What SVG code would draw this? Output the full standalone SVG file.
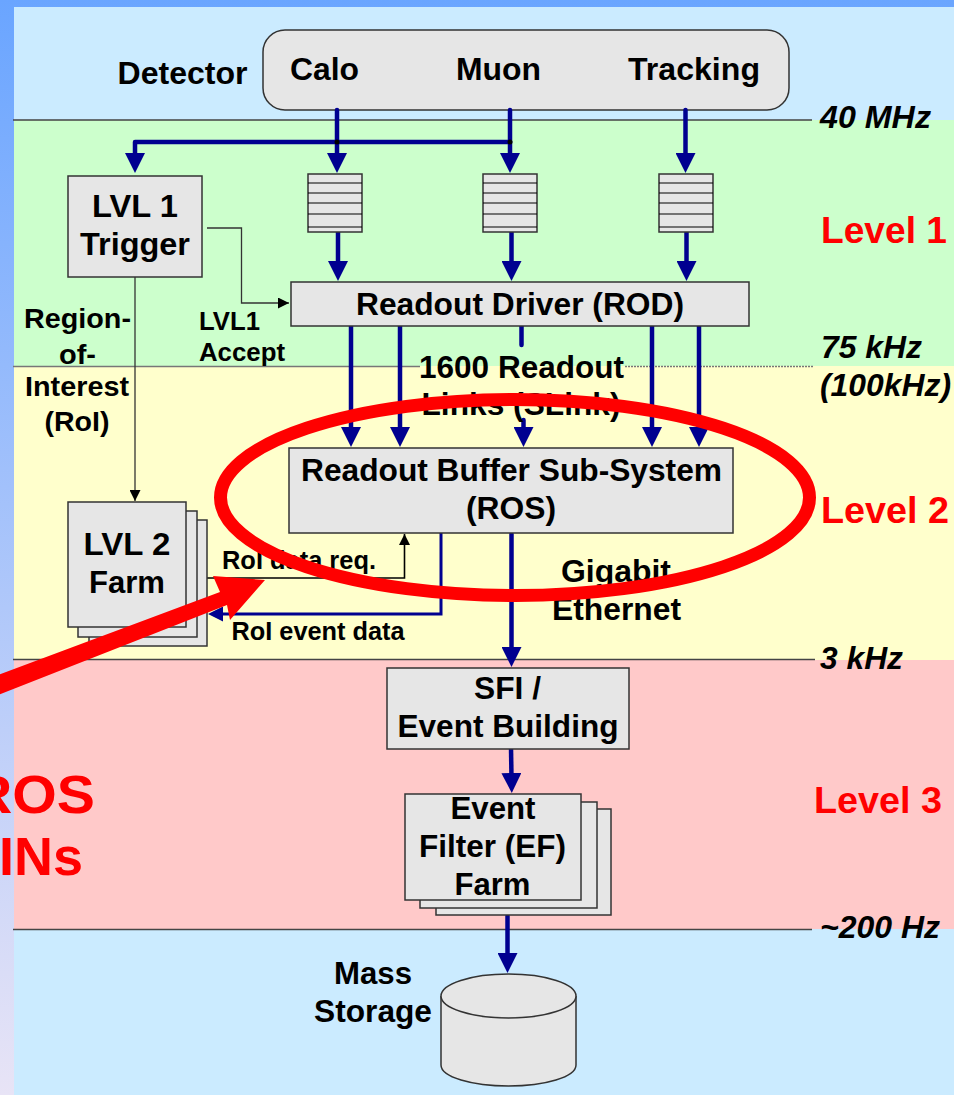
<svg xmlns="http://www.w3.org/2000/svg" width="954" height="1095" viewBox="0 0 954 1095">
<defs>
<linearGradient id="bg" x1="0" y1="0" x2="0" y2="1"><stop offset="0" stop-color="#6aa5ff"/><stop offset="1" stop-color="#e8e4f6"/></linearGradient>
<marker id="big" markerUnits="userSpaceOnUse" markerWidth="20" markerHeight="20" refX="4" refY="10" orient="auto"><path d="M0 0L20 10L0 20Z" fill="#000090"/></marker>
<marker id="mid" markerUnits="userSpaceOnUse" markerWidth="15" markerHeight="15" refX="1" refY="7.500" orient="auto"><path d="M0 0L15 7.500L0 15Z" fill="#000090"/></marker>
<marker id="small" markerUnits="userSpaceOnUse" markerWidth="11" markerHeight="11" refX="11" refY="5.500" orient="auto"><path d="M0 0L11 5.500L0 11Z" fill="#000"/></marker>
</defs>
<style>
text{font-family:"Liberation Sans",Arial,sans-serif;font-weight:700;fill:#000;text-anchor:middle}
.t30{font-size:31.500px}.t27{font-size:28px}.t25{font-size:26px}.t24{font-size:25px}
.it{font-size:32px;font-style:italic;text-anchor:start}
.lv{font-size:37px;fill:#f00;text-anchor:start}.big{font-size:54px;fill:#f00;text-anchor:start}
.box{fill:#e6e6e6;stroke:#333;stroke-width:1.5}
.band{stroke:#444;stroke-width:1.5;fill:none}
.dash{stroke:#777;stroke-width:1.5;fill:none}
.bus{fill:none;stroke:#000090;stroke-width:4.500;stroke-linecap:round;stroke-linejoin:round}
.thin{fill:none;stroke:#333;stroke-width:1.300}
.q{stroke:#000;stroke-width:1;fill:none}
</style>
<rect width="954" height="1095" fill="url(#bg)"/>
<rect x="14" y="7" width="940" height="113" fill="#cbebff"/>
<rect x="14" y="120" width="940" height="246" fill="#ccffcc"/>
<rect x="14" y="366" width="940" height="294" fill="#ffffcc"/>
<rect x="14" y="660" width="940" height="269" fill="#ffc9c9"/>
<rect x="14" y="929" width="940" height="166" fill="#cbebff"/>
<g id="levels">
<path class="band" d="M13 120H812M13 659.500H815M13 929.500H812"/>
<path class="dash" d="M13 366.500H420"/>
<path class="dash" d="M625 366.500H814" stroke-dasharray="2 1"/>
<text class="it" x="820" y="128" textLength="111" lengthAdjust="spacingAndGlyphs">40 MHz</text>
<text class="it" x="821" y="358" textLength="101" lengthAdjust="spacingAndGlyphs">75 kHz</text>
<text class="it" x="820" y="396" textLength="131" lengthAdjust="spacingAndGlyphs">(100kHz)</text>
<text class="it" x="820" y="669" textLength="83" lengthAdjust="spacingAndGlyphs">3 kHz</text>
<text class="it" x="820" y="938" textLength="120" lengthAdjust="spacingAndGlyphs">~200 Hz</text>
<text class="lv" x="821" y="243" textLength="126" lengthAdjust="spacingAndGlyphs">Level 1</text>
<text class="lv" x="821" y="523" textLength="128" lengthAdjust="spacingAndGlyphs">Level 2</text>
<text class="lv" x="814" y="813" textLength="128" lengthAdjust="spacingAndGlyphs">Level 3</text>
</g>
<g id="detector">
<text class="t30" x="182.500" y="84" textLength="130" lengthAdjust="spacingAndGlyphs">Detector</text>
<rect class="box" x="263" y="30" width="526" height="80" rx="22"/>
<text class="t30" x="324.500" y="80" textLength="69" lengthAdjust="spacingAndGlyphs">Calo</text>
<text class="t30" x="498.500" y="80" textLength="85" lengthAdjust="spacingAndGlyphs">Muon</text>
<text class="t30" x="694" y="80" textLength="132" lengthAdjust="spacingAndGlyphs">Tracking</text>
</g>
<g id="connectors">
<path class="bus" d="M337 110V157" marker-end="url(#big)"/>
<path class="bus" d="M510 110V157" marker-end="url(#big)"/>
<path class="bus" d="M685.500 110V157" marker-end="url(#big)"/>
<path class="bus" d="M510 142H135V157" marker-end="url(#big)"/>
<circle cx="337" cy="142" r="2.500" fill="#000"/>
<circle cx="510" cy="142" r="2.500" fill="#000"/>
<path class="bus" d="M338 232V265" marker-end="url(#big)"/>
<path class="bus" d="M511.500 232V265" marker-end="url(#big)"/>
<path class="bus" d="M686.500 232V265" marker-end="url(#big)"/>
<path class="bus" d="M351 326V431" marker-end="url(#big)"/>
<path class="bus" d="M400 326V431" marker-end="url(#big)"/>
<path class="bus" d="M521.500 326V345"/>
<path class="bus" d="M523.500 420V431" marker-end="url(#big)"/>
<path class="bus" d="M652 326V431" marker-end="url(#big)"/>
<path class="bus" d="M699 326V431" marker-end="url(#big)"/>
<path class="bus" d="M511.500 534V651" marker-end="url(#big)"/>
<path class="bus" d="M511 748L511.500 777" marker-end="url(#big)"/>
<path class="bus" d="M507.500 916V957" marker-end="url(#big)"/>
<path class="thin" d="M207 228H241.500V303H289" marker-end="url(#small)"/>
<path class="thin" d="M135 277V501" marker-end="url(#small)"/>
<path class="thin" style="stroke:#000;stroke-width:1.600" d="M207 578H404.500V534" marker-end="url(#small)"/>
<path class="bus" style="stroke-width:3;stroke-linecap:butt;stroke-linejoin:miter" d="M441 533V614H222" marker-end="url(#mid)"/>
</g>
<g id="lvl1">
<rect class="box" x="68" y="176" width="134" height="101"/>
<text class="t30" x="135" y="217" textLength="86" lengthAdjust="spacingAndGlyphs">LVL 1</text>
<text class="t30" x="135" y="255" textLength="110" lengthAdjust="spacingAndGlyphs">Trigger</text>
</g>
<g id="buffers">
<g id="buf1"><rect class="box" x="308" y="174" width="54" height="58"/><path class="q" d="M308 183H362M308 193H362M308 203H362M308 214H362M308 227H362"/></g>
<g id="buf2"><rect class="box" x="483" y="174" width="54" height="58"/><path class="q" d="M483 183H537M483 193H537M483 203H537M483 214H537M483 227H537"/></g>
<g id="buf3"><rect class="box" x="659" y="174" width="54" height="58"/><path class="q" d="M659 183H713M659 193H713M659 203H713M659 214H713M659 227H713"/></g>
</g>
<g id="rod">
<rect class="box" x="291" y="282" width="458" height="44"/>
<text class="t30" x="520" y="315" textLength="328" lengthAdjust="spacingAndGlyphs">Readout Driver (ROD)</text>
</g>
<g id="labels">
<text class="t27" x="77.500" y="328" textLength="107" lengthAdjust="spacingAndGlyphs">Region-</text>
<text class="t27" x="77.500" y="364" textLength="37" lengthAdjust="spacingAndGlyphs">of-</text>
<text class="t27" x="77" y="396" textLength="104" lengthAdjust="spacingAndGlyphs">Interest</text>
<text class="t27" x="77" y="431" textLength="65" lengthAdjust="spacingAndGlyphs">(RoI)</text>
<text class="t25" x="229.500" y="330" textLength="61" lengthAdjust="spacingAndGlyphs">LVL1</text>
<text class="t25" x="242" y="361" textLength="86" lengthAdjust="spacingAndGlyphs">Accept</text>
<text class="t30" x="521.500" y="378" textLength="205" lengthAdjust="spacingAndGlyphs">1600 Readout</text>
<text class="t30" x="521" y="415" textLength="199" lengthAdjust="spacingAndGlyphs">Links (SLink)</text>
<text class="t30" x="616" y="582" textLength="110" lengthAdjust="spacingAndGlyphs">Gigabit</text>
<text class="t30" x="616.500" y="620" textLength="129" lengthAdjust="spacingAndGlyphs">Ethernet</text>
<text class="t24" x="299" y="569" textLength="154" lengthAdjust="spacingAndGlyphs">RoI data req.</text>
<text class="t24" x="318" y="640" textLength="173" lengthAdjust="spacingAndGlyphs">RoI event data</text>
</g>
<g id="ros">
<rect class="box" x="289" y="448" width="444" height="85"/>
<text class="t30" x="511.500" y="481" textLength="421" lengthAdjust="spacingAndGlyphs">Readout Buffer Sub-System</text>
<text class="t30" x="511" y="519" textLength="90" lengthAdjust="spacingAndGlyphs">(ROS)</text>
</g>
<g id="lvl2">
<rect class="box" x="89" y="520" width="118" height="126"/>
<rect class="box" x="78" y="511" width="119" height="126"/>
<rect class="box" x="68" y="502" width="118" height="125"/>
<text class="t30" x="127" y="555" textLength="87" lengthAdjust="spacingAndGlyphs">LVL 2</text>
<text class="t30" x="127" y="593" textLength="76" lengthAdjust="spacingAndGlyphs">Farm</text>
</g>
<g id="sfi">
<rect class="box" x="387" y="668" width="242" height="81"/>
<text class="t30" x="507.500" y="699" textLength="67" lengthAdjust="spacingAndGlyphs">SFI /</text>
<text class="t30" x="508" y="737" textLength="221" lengthAdjust="spacingAndGlyphs">Event Building</text>
</g>
<g id="ef">
<rect class="box" x="436" y="809" width="175" height="106"/>
<rect class="box" x="420" y="802" width="177" height="106"/>
<rect class="box" x="405" y="794" width="176" height="106"/>
<text class="t30" x="493" y="819" textLength="85" lengthAdjust="spacingAndGlyphs">Event</text>
<text class="t30" x="492.500" y="857" textLength="147" lengthAdjust="spacingAndGlyphs">Filter (EF)</text>
<text class="t30" x="492.500" y="895" textLength="76" lengthAdjust="spacingAndGlyphs">Farm</text>
</g>
<g id="storage">
<text class="t30" x="373" y="984" textLength="78" lengthAdjust="spacingAndGlyphs">Mass</text>
<text class="t30" x="373" y="1022" textLength="118" lengthAdjust="spacingAndGlyphs">Storage</text>
<path class="box" d="M441 996V1065C441 1077 472 1086 508.500 1086S576 1077 576 1065V996"/>
<ellipse class="box" cx="508.500" cy="996" rx="67.500" ry="22"/>
</g>
<g id="callout">
<ellipse cx="515" cy="497.500" rx="294.500" ry="98" fill="none" stroke="#f00" stroke-width="13"/>
<path d="M-2 675L220 592L213 576L265 580L230 620L227 605L-2 695Z" fill="#f00"/>
<text class="big" x="-29" y="813" textLength="124" lengthAdjust="spacingAndGlyphs">ROS</text>
<text class="big" x="-1" y="875" textLength="84" lengthAdjust="spacingAndGlyphs">INs</text>
</g>
</svg>
